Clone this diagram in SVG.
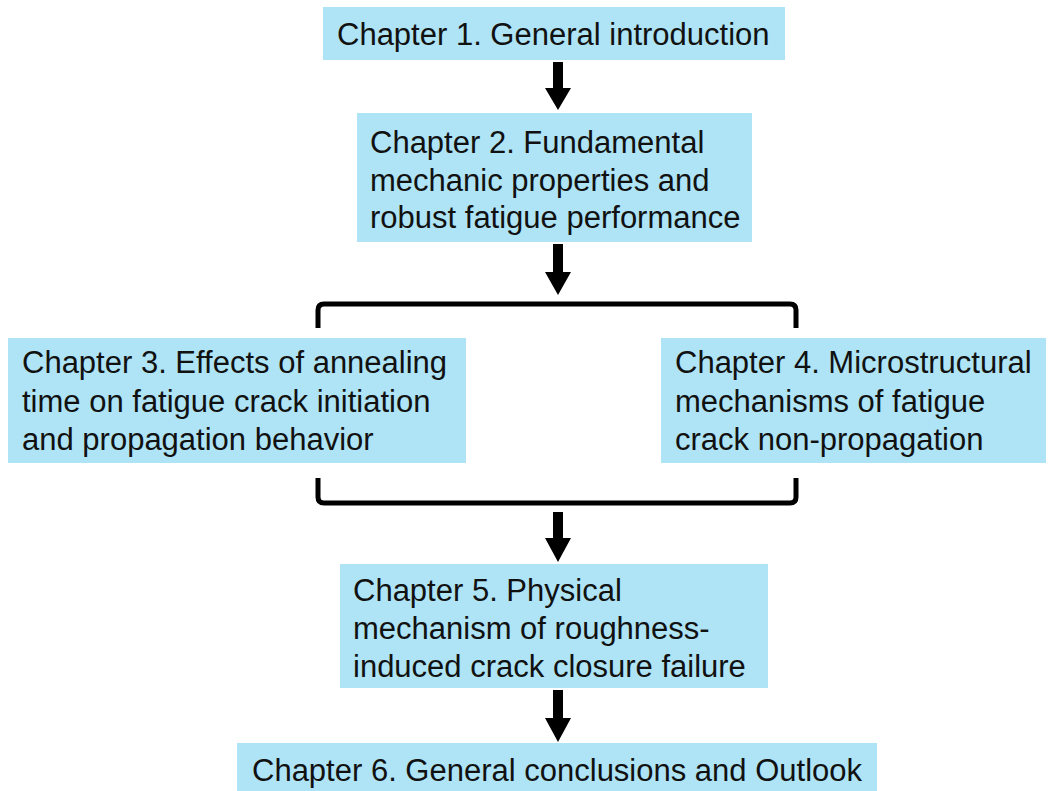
<svg xmlns="http://www.w3.org/2000/svg" width="1054" height="791" viewBox="0 0 1054 791">
<defs>
<style>
.box{fill:#aee4f5;}
.t{font-family:"Liberation Sans",Arial,sans-serif;font-size:31px;fill:#111;}
.ln{fill:none;stroke:#000;stroke-width:5;}
.ar{fill:#000;}
</style>
</defs>
<rect width="1054" height="791" fill="#fff"/>
<g id="connectors">
<polygon class="ar" points="553,62 563,62 563,88 571,88 558,110 545,88 553,88"/>
<polygon class="ar" points="553,244 563,244 563,272 571,272 558,295 545,272 553,272"/>
<path class="ln" d="M318,328 V310 Q318,304 324,304 H790 Q796,304 796,310 V328"/>
<path class="ln" d="M318,478 V497 Q318,503 324,503 H790 Q796,503 796,497 V478"/>
<polygon class="ar" points="553,512 563,512 563,538 571,538 558,562 545,538 553,538"/>
<polygon class="ar" points="553,690 563,690 563,718 571,718 558,742 545,718 553,718"/>
</g>
<g id="ch1"><rect class="box" x="323" y="7" width="462" height="53"/><text class="t" x="337" y="45">Chapter 1. General introduction</text></g>
<g id="ch2"><rect class="box" x="357" y="113" width="395" height="129"/><text class="t"><tspan x="370" y="153">Chapter 2. Fundamental</tspan><tspan x="370" y="191">mechanic properties and</tspan><tspan x="370" y="228">robust fatigue performance</tspan></text></g>
<g id="ch3"><rect class="box" x="8" y="338" width="458" height="125"/><text class="t"><tspan x="22" y="373">Chapter 3. Effects of annealing</tspan><tspan x="22" y="412">time on fatigue crack initiation</tspan><tspan x="22" y="450">and propagation behavior</tspan></text></g>
<g id="ch4"><rect class="box" x="661" y="338" width="385" height="125"/><text class="t"><tspan x="675" y="373">Chapter 4. Microstructural</tspan><tspan x="675" y="412">mechanisms of fatigue</tspan><tspan x="675" y="450">crack non-propagation</tspan></text></g>
<g id="ch5"><rect class="box" x="340" y="564" width="428" height="124"/><text class="t"><tspan x="353" y="601">Chapter 5. Physical</tspan><tspan x="353" y="639">mechanism of roughness-</tspan><tspan x="353" y="677">induced crack closure failure</tspan></text></g>
<g id="ch6"><rect class="box" x="237" y="743" width="640" height="48"/><text class="t" x="252" y="781">Chapter 6. General conclusions and Outlook</text></g>
</svg>
